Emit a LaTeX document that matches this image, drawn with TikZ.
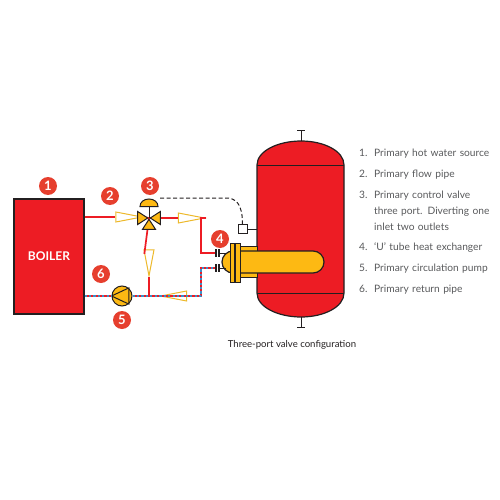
\documentclass[tikz,border=0pt]{standalone}
\usepackage{fontspec}
\setmainfont{Lato}
\usetikzlibrary{positioning, shapes.geometric}
\definecolor{tankred}{HTML}{ED1C24}
\definecolor{badgered}{HTML}{E63F2E}
\definecolor{partyellow}{HTML}{FDB913}
\definecolor{flowyellow}{HTML}{EDB92B}
\definecolor{pipeblue}{HTML}{3B8FC8}
\definecolor{linedark}{HTML}{231F20}
\definecolor{listgray}{HTML}{58595B}

\begin{document}
\begin{tikzpicture}[
  x=1pt,
  y=-1pt,
  badge/.style={
    circle,
    fill=badgered,
    text=white,
    inner sep=0pt,
    minimum size=18pt,
    font=\fontsize{13}{13}\selectfont\bfseries
  },
  flowpipe/.style={draw=tankred, line width=1.7pt},
  returnpipe/.style={
    draw=tankred,
    line width=1.7pt,
    postaction={draw=pipeblue, line width=1.7pt, dash pattern=on 2.2pt off 2.2pt}
  },
  flowmark/.style={
    isosceles triangle,
    isosceles triangle stretches,
    draw=flowyellow,
    fill=white,
    line width=1pt,
    inner sep=0pt,
    minimum height=26pt,
    minimum width=10pt
  },
  valvepart/.style={
    isosceles triangle,
    isosceles triangle stretches,
    anchor=apex,
    draw=linedark,
    fill=partyellow,
    line width=1pt,
    inner sep=0pt,
    minimum height=10pt,
    minimum width=13pt
  },
  partline/.style={draw=linedark, line width=1pt},
  listnum/.style={
    anchor=base west,
    inner sep=0pt,
    text=listgray,
    font=\fontsize{10.2}{16}\selectfont
  },
  listtext/.style={listnum, text width=122pt, align=left}
]

\useasboundingbox (0,0) rectangle (500,500);

% Boiler
\node[draw=linedark, fill=tankred, line width=1.2pt, minimum width=70pt, minimum height=115pt,
  inner sep=0pt, text=white, font=\fontsize{12}{12}\selectfont\bfseries] (boiler) at (49,256.5) {BOILER};

% Cylinder
\coordinate (tanktop) at (301,141);
\coordinate (tankbottom) at (301,317);
\coordinate (shoulderL) at (257,165);
\coordinate (shoulderR) at (344,165);
\coordinate (hipL) at (257,293);
\coordinate (hipR) at (344,293);
\coordinate (topcap) at (301,130);
\coordinate (bottomcap) at (301,327);
\draw[partline, fill=tankred, line width=1.2pt] (shoulderL)
  .. controls (257,151) and (278,141) .. (tanktop)
  .. controls (324,141) and (344,151) .. (shoulderR)
  -- (hipR)
  .. controls (344,307) and (324,317) .. (tankbottom)
  .. controls (278,317) and (257,307) .. (hipL)
  -- cycle;
\draw[partline] (shoulderL) -- (shoulderR);
\draw[partline] (hipL) -- (hipR);
\draw[partline] (tanktop) -- (topcap);
\draw[partline] (tankbottom) -- (bottomcap);
\draw[partline] ([xshift=-4pt]topcap) -- ([xshift=4pt]topcap);
\draw[partline] ([xshift=-4pt]bottomcap) -- ([xshift=4pt]bottomcap);

% Heat exchanger
\node[partline, fill=partyellow, minimum width=18pt, minimum height=31pt, inner sep=0pt] (neck) at (248,261.5) {};
\node[partline, fill=partyellow, line width=1.2pt, rounded corners=11pt, minimum width=102pt, minimum height=22pt, inner sep=0pt] (utube) at (273,262) {};
\node[partline, fill=partyellow, minimum width=4.5pt, minimum height=39pt, inner sep=0pt] (flangeL) at (232.5,262.5) {};
\node[partline, fill=partyellow, minimum width=4.5pt, minimum height=39pt, inner sep=0pt, right=0pt of flangeL] (flangeR) {};

% Pump and valve
\coordinate (valve) at (149,218);
\node[partline, circle, fill=partyellow, minimum size=20pt, inner sep=0pt] (pump) at (122,296) {};
\draw[partline] (pump.180) -- (pump.50) -- (pump.-50) -- cycle;

% Flow marks
\node[flowmark] (flowA) at (120,217) {};
\node[flowmark] (flowB) at (182.5,218) {};
\node[flowmark, shape border rotate=180] (returnA) at (182.5,296) {};
\node[flowmark, shape border rotate=270] (flowC) at (149,254) {};

% Pipes
\coordinate (inletA) at (215,253);
\coordinate (inletB) at (215,268);
\coordinate (tee) at (149,296);
\draw[flowpipe] (boiler.east |- flowA) -- (flowA.west);
\draw[flowpipe] (flowA.apex) -- (valve);
\draw[flowpipe] (valve) -- (flowB.west);
\draw[flowpipe] (flowB.apex) -- (201,218) -- (201,253) -- (inletA);
\draw[flowpipe] (valve) -- (flowC.west);
\draw[flowpipe] (flowC.apex) -- (tee);
\draw[returnpipe] (boiler.east |- pump) -- (pump.west);
\draw[returnpipe] (pump.east) -- (returnA.apex);
\draw[returnpipe] (returnA.west) -- (201,296) -- (201,268) -- (inletB);

% Unions
\foreach \y in {253,268} {
  \draw[partline, line width=1.2pt] (216,\y-4) -- (216,\y+4);
  \draw[partline, line width=1.2pt] (219,\y-4) -- (219,\y+4);
  \draw[partline] (219,\y) -- (226,\y);
}

% Valve
\node[valvepart] (valveL) at (valve) {};
\node[valvepart, shape border rotate=180] (valveR) at (valve) {};
\node[valvepart, shape border rotate=90] (valveB) at (valve) {};
\coordinate (dometop) at (149,199);
\draw[partline, fill=partyellow] (140,206.5)
  .. controls (140,202) and (144,199) .. (dometop)
  .. controls (154,199) and (158,202) .. (158,206.5) -- cycle;
\draw[partline] (149,206.5) -- (valve);

% Control line
\node[partline, fill=white, minimum size=9pt, inner sep=0pt] (sensor) at (242.5,229) {};
\draw[partline] (sensor.east) -- (sensor.east -| shoulderL);
\draw[partline, dashed, dash pattern=on 4pt off 2.5pt] (160,198) -- (226,198)
  .. controls (236,198) and (242.5,204) .. (sensor.north);

% Badges
\node[badge] (one) at (48,186) {1};
\node[badge] (two) at (110,196) {2};
\node[badge] (three) at (150,186) {3};
\node[badge] (four) at (220,239) {4};
\node[badge] (five) at (122,320) {5};
\node[badge] (six) at (101,274) {6};

% List
\node[listnum] (numA) at (359,156) {1.};
\node[listtext] (textA) at (374,156) {Primary hot water source};
\node[listnum] (numB) at (359,177) {2.};
\node[listtext] (textB) at (374,177) {Primary flow pipe};
\node[listnum] (numC) at (359,198) {3.};
\node[listtext] (textC) at (374,198) {Primary control valve three port. Diverting one inlet two outlets};
\node[listnum] (numD) at (359,250) {4.};
\node[listtext] (textD) at (374,250) {‘U’ tube heat exchanger};
\node[listnum] (numE) at (359,271) {5.};
\node[listtext] (textE) at (374,271) {Primary circulation pump};
\node[listnum] (numF) at (359,292) {6.};
\node[listtext] (textF) at (374,292) {Primary return pipe};

% Caption
\node[text=linedark, inner sep=0pt, font=\fontsize{9.6}{12}\selectfont] (caption) at (292,345) {Three-port valve configuration};

\end{tikzpicture}
\end{document}
